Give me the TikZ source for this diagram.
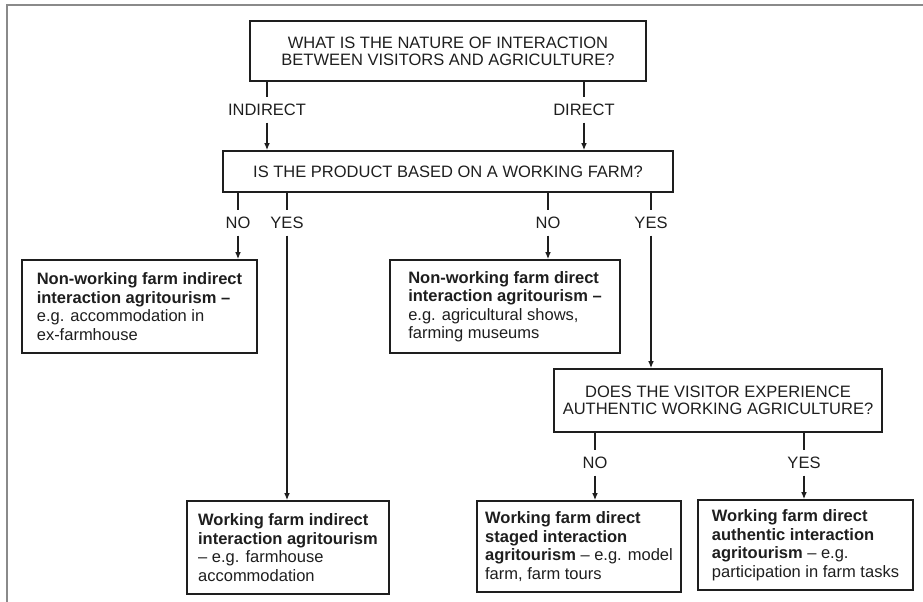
\documentclass[tikz,border=0pt]{standalone}
\usepackage{fontspec}
\setmainfont{Liberation Sans}
\usepackage{tikz}
\usetikzlibrary{arrows.meta, positioning, calc}
\definecolor{framegray}{HTML}{8A8A8A}
\definecolor{inkblack}{HTML}{1E1E1E}

\tikzset{
  question/.style={draw=inkblack, line width=1pt, inner sep=0pt, align=center,
    font=\fontsize{9.9}{10.2}\selectfont, text=inkblack},
  outcome/.style={draw=inkblack, line width=1pt, inner sep=0pt, align=left,
    font=\fontsize{9.9}{11.1}\selectfont, text=inkblack},
  answer/.style={inner xsep=1pt, inner ysep=3.8pt, font=\fontsize{9.9}{10}\selectfont, text=inkblack},
  link/.style={draw=inkblack, line width=0.75pt}
}

\begin{document}
\begin{tikzpicture}[x=0.6pt, y=-0.6pt, >={Latex[length=4.2pt,width=3.4pt]}]
  \useasboundingbox (0,0) rectangle (923,602);
  % Rahmen
  \draw[framegray, line width=1.3pt] (7,602) -- (7,5) -- (923,5);

  % Fragen
  \node[question, minimum width=237.6pt, minimum height=36pt] (q1) at (448,51)
    {WHAT IS THE NATURE OF INTERACTION\\BETWEEN VISITORS AND AGRICULTURE?};
  \node[question, minimum width=270pt, minimum height=24.6pt] (q2) at (448,171.5)
    {IS THE PRODUCT BASED ON A WORKING FARM?};
  \node[question, minimum width=196.8pt, minimum height=37.8pt] (q3) at (718,400.5)
    {DOES THE VISITOR EXPERIENCE\\AUTHENTIC WORKING AGRICULTURE?};

  % Ergebnisse
  \node[outcome, minimum width=141pt, minimum height=55.8pt] (nwind) at (139.5,306.5)
    {\textbf{Non-working farm indirect}\\\textbf{interaction agritourism --}\\e.g. accommodation in\\ex-farmhouse};
  \node[outcome, minimum width=138pt, minimum height=55.8pt] (nwdir) at (505,306.5)
    {\textbf{Non-working farm direct}\\\textbf{interaction agritourism --}\\e.g. agricultural shows,\\farming museums};
  \node[outcome, minimum width=121.2pt, minimum height=55.8pt] (wind) at (288,547.5)
    {\textbf{Working farm indirect}\\\textbf{interaction agritourism}\\-- e.g. farmhouse\\accommodation};
  \node[outcome, minimum width=122.4pt, minimum height=54.6pt] (wstaged) at (579,546.5)
    {\textbf{Working farm direct}\\\textbf{staged interaction}\\\textbf{agritourism} -- e.g. model\\farm, farm tours};
  \node[outcome, minimum width=129pt, minimum height=54pt] (wauth) at (805.5,545)
    {\textbf{Working farm direct}\\\textbf{authentic interaction}\\\textbf{agritourism} -- e.g.\\participation in farm tasks};

  % Antworten
  \node[answer] (indirect) at (267,110) {INDIRECT};
  \node[answer] (direct) at (584,110) {DIRECT};
  \node[answer] (noA) at (238,223) {NO};
  \node[answer] (yesA) at (287,223) {YES};
  \node[answer] (noB) at (548,223) {NO};
  \node[answer] (yesB) at (651,223) {YES};
  \node[answer] (noC) at (595,463) {NO};
  \node[answer] (yesC) at (804,463) {YES};

  % Verbindungen
  \draw[link] (q1.south -| indirect) -- (indirect);
  \draw[link, ->] (indirect) -- (indirect |- q2.north);
  \draw[link] (q1.south -| direct) -- (direct);
  \draw[link, ->] (direct) -- (direct |- q2.north);

  \draw[link] (q2.south -| noA) -- (noA);
  \draw[link, ->] (noA) -- (noA |- nwind.north);
  \draw[link] (q2.south -| yesA) -- (yesA);
  \draw[link, ->] (yesA) -- (yesA |- wind.north);
  \draw[link] (q2.south -| noB) -- (noB);
  \draw[link, ->] (noB) -- (noB |- nwdir.north);
  \draw[link] (q2.south -| yesB) -- (yesB);
  \draw[link, ->] (yesB) -- (yesB |- q3.north);

  \draw[link] (q3.south -| noC) -- (noC);
  \draw[link, ->] (noC) -- (noC |- wstaged.north);
  \draw[link] (q3.south -| yesC) -- (yesC);
  \draw[link, ->] (yesC) -- (yesC |- wauth.north);
\end{tikzpicture}
\end{document}
